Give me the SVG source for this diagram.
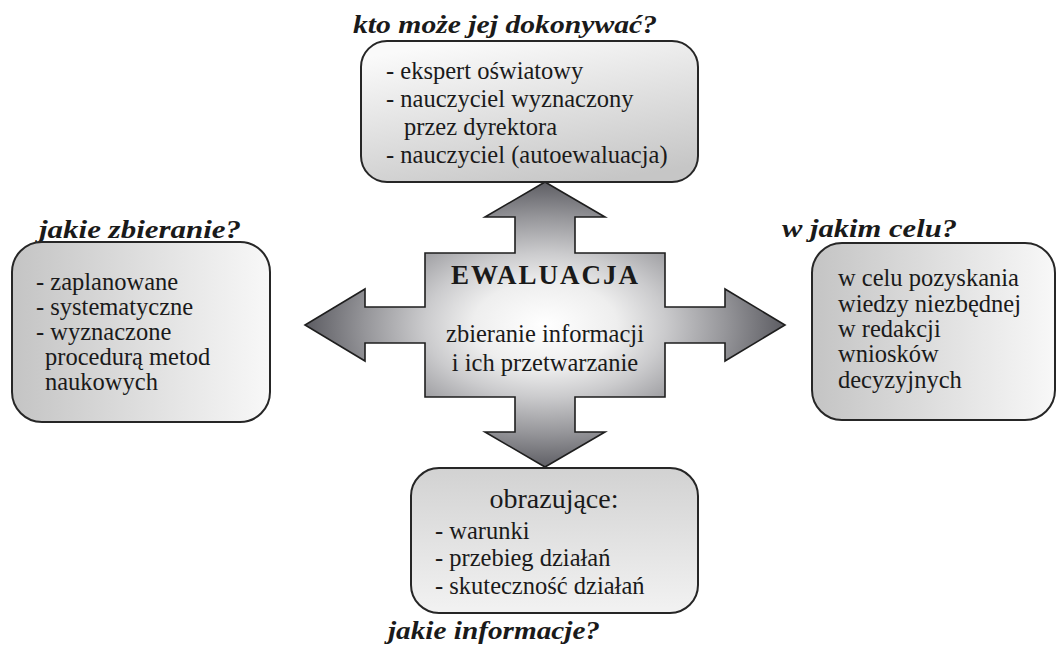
<svg xmlns="http://www.w3.org/2000/svg" width="1059" height="648" viewBox="0 0 1059 648">
  <style>
    .box { stroke: #262626; stroke-width: 2; }
    .title { font-family: "Liberation Serif", "Times New Roman", serif; font-weight: bold; font-style: italic; font-size: 25px; fill: #1a1a1a; }
    .body { font-family: "Liberation Serif", "Times New Roman", serif; font-size: 24.5px; fill: #1a1a1a; }
    .head { font-family: "Liberation Serif", "Times New Roman", serif; font-weight: bold; font-size: 27px; fill: #1a1a1a; }
    .cross { stroke: #1e1e1e; stroke-width: 1.6; stroke-linejoin: miter; }
  </style>
  <defs>
    <!-- radial shading of the four-way arrow: light core, dark tips -->
    <radialGradient id="crossFill" gradientUnits="userSpaceOnUse" cx="545" cy="325" r="240"
                    gradientTransform="translate(545 325) scale(1 0.6) translate(-545 -325)">
      <stop offset="0" stop-color="#ffffff"/>
      <stop offset="0.3" stop-color="#eeeeee"/>
      <stop offset="0.5" stop-color="#cbcbcd"/>
      <stop offset="0.75" stop-color="#96969a"/>
      <stop offset="1" stop-color="#5c5c62"/>
    </radialGradient>
    <linearGradient id="fillTop" x1="0.3" y1="0" x2="0.7" y2="1">
      <stop offset="0" stop-color="#fafafa"/>
      <stop offset="1" stop-color="#c6c6c6"/>
    </linearGradient>
    <linearGradient id="fillSide" x1="0" y1="0" x2="1" y2="0">
      <stop offset="0" stop-color="#c4c4c4"/>
      <stop offset="1" stop-color="#f8f8f8"/>
    </linearGradient>
    <linearGradient id="fillBottom" x1="0" y1="0" x2="0" y2="1">
      <stop offset="0" stop-color="#d2d2d2"/>
      <stop offset="1" stop-color="#f2f2f2"/>
    </linearGradient>
  </defs>

  <rect width="1059" height="648" fill="#ffffff"/>

  <!-- four-way arrow linking the centre to the surrounding boxes -->
  <g id="connectors">
    <path class="cross" fill="url(#crossFill)"
          d="M545,182 L605,217 L575,217 L575,253 L665,253 L665,307 L725,307 L725,289 L785,325 L725,361 L725,343 L665,343 L665,397 L575,397 L575,432 L605,432 L545,467 L485,432 L515,432 L515,397 L425,397 L425,343 L365,343 L365,361 L305,325 L365,289 L365,307 L425,307 L425,253 L515,253 L515,217 L485,217 Z"/>
  </g>

  <g id="center">
    <text class="head" x="451" y="284" textLength="187" lengthAdjust="spacing">EWALUACJA</text>
    <text class="body" x="545" y="342" text-anchor="middle">zbieranie informacji</text>
    <text class="body" x="545" y="371" text-anchor="middle">i ich przetwarzanie</text>
  </g>

  <g id="who">
    <text class="title" x="353" y="33" textLength="304" lengthAdjust="spacingAndGlyphs">kto może jej dokonywać?</text>
    <rect class="box" x="361" y="41" width="337" height="141" rx="26" fill="url(#fillTop)"/>
    <text class="body" x="386" y="79">- ekspert oświatowy</text>
    <text class="body" x="386" y="107">- nauczyciel wyznaczony</text>
    <text class="body" x="404" y="135">przez dyrektora</text>
    <text class="body" x="386" y="163">- nauczyciel (autoewaluacja)</text>
  </g>

  <g id="collection">
    <text class="title" x="39" y="238" textLength="202" lengthAdjust="spacingAndGlyphs">jakie zbieranie?</text>
    <rect class="box" x="12" y="242" width="258" height="180" rx="30" fill="url(#fillSide)"/>
    <text class="body" x="36" y="290">- zaplanowane</text>
    <text class="body" x="36" y="315">- systematyczne</text>
    <text class="body" x="36" y="340">- wyznaczone</text>
    <text class="body" x="45" y="365">procedurą metod</text>
    <text class="body" x="45" y="390">naukowych</text>
  </g>

  <g id="purpose">
    <text class="title" x="782" y="237" textLength="175" lengthAdjust="spacingAndGlyphs">w jakim celu?</text>
    <rect class="box" x="812" y="243" width="243" height="177" rx="30" fill="url(#fillSide)"/>
    <text class="body" x="838" y="286">w celu pozyskania</text>
    <text class="body" x="838" y="312">wiedzy niezbędnej</text>
    <text class="body" x="838" y="337">w redakcji</text>
    <text class="body" x="838" y="362">wniosków</text>
    <text class="body" x="838" y="388">decyzyjnych</text>
  </g>

  <g id="information">
    <rect class="box" x="411" y="468" width="287" height="145" rx="28" fill="url(#fillBottom)"/>
    <text class="body" x="554" y="508" text-anchor="middle" style="font-size:28px">obrazujące:</text>
    <text class="body" x="435" y="539">- warunki</text>
    <text class="body" x="435" y="566">- przebieg działań</text>
    <text class="body" x="435" y="594">- skuteczność działań</text>
    <text class="title" x="388" y="639" textLength="212" lengthAdjust="spacingAndGlyphs">jakie informacje?</text>
  </g>
</svg>
